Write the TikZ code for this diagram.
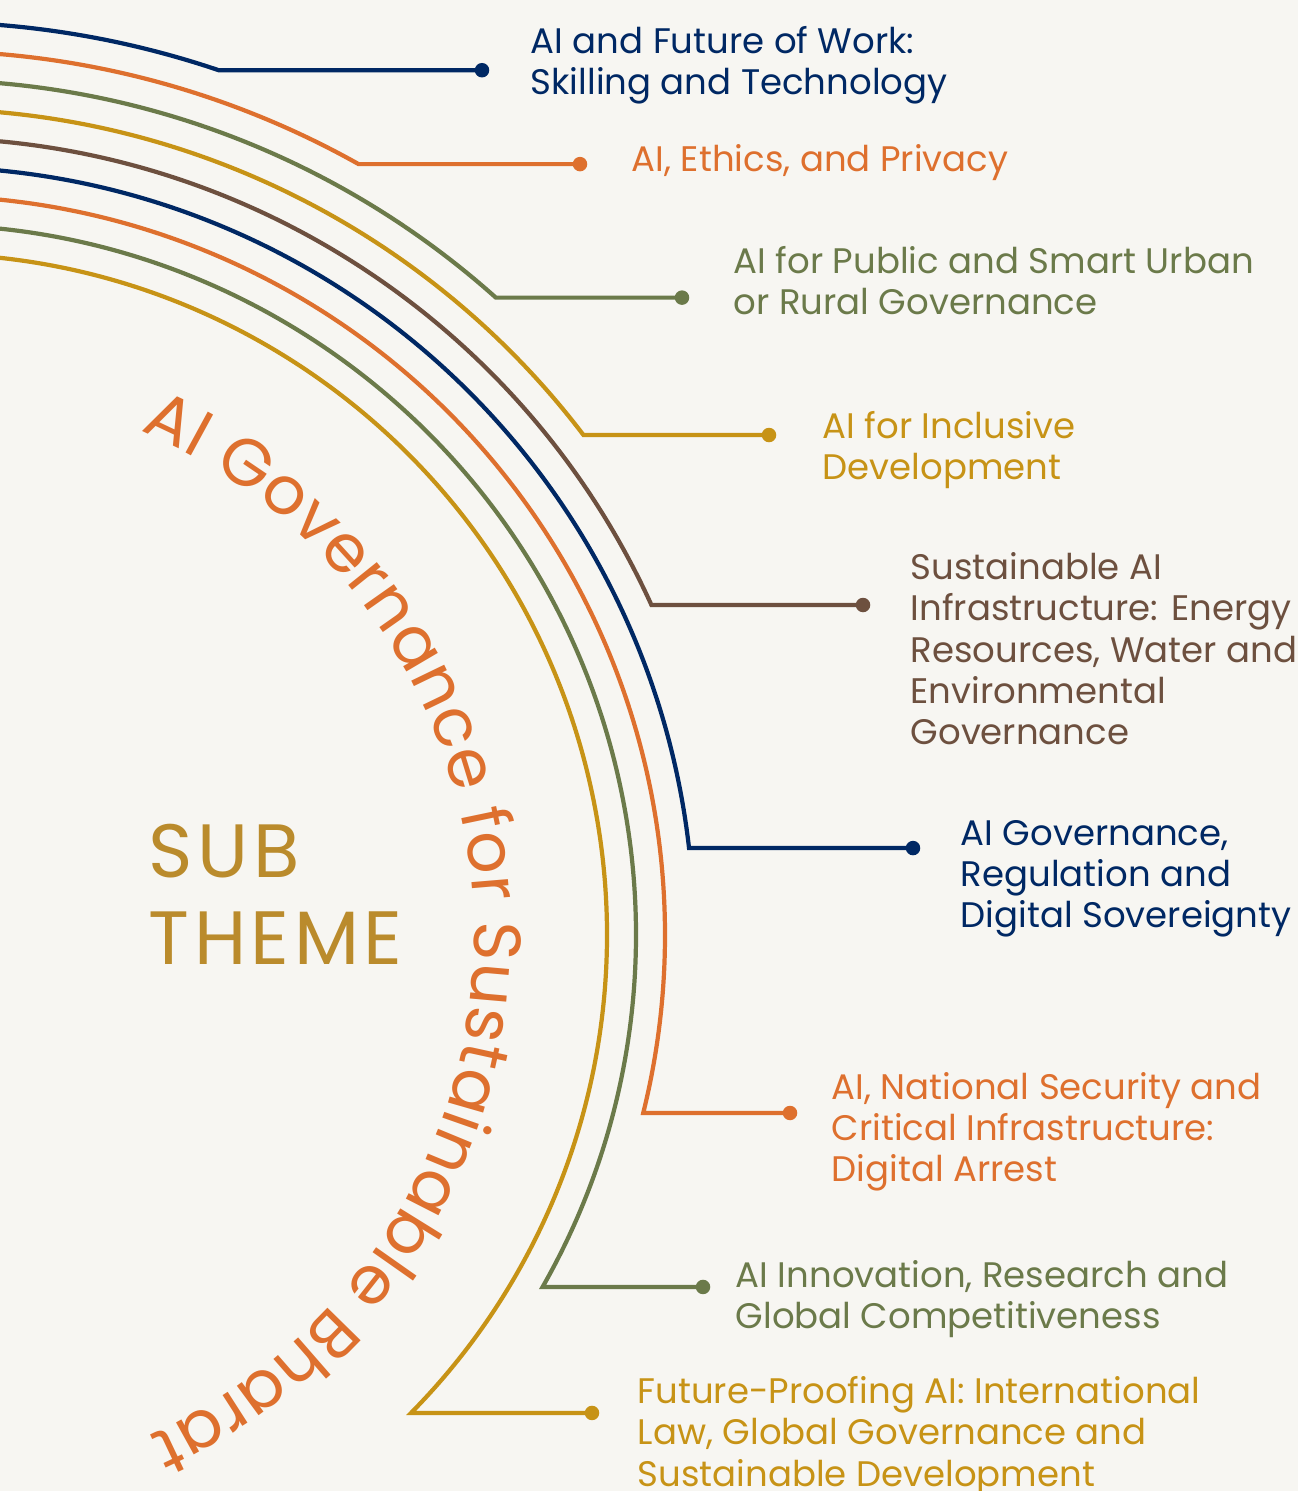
\documentclass[tikz,border=0pt]{standalone}
\usepackage{fontspec}
\setmainfont{Poppins}
\definecolor{mynavy}{RGB}{0,40,100}
\definecolor{myorange}{RGB}{222,112,46}
\definecolor{myolive}{RGB}{107,122,74}
\definecolor{mygold}{RGB}{199,147,22}
\definecolor{mybrown}{RGB}{109,80,63}
\definecolor{mytheme}{RGB}{186,139,44}
\definecolor{mypaper}{RGB}{247,246,242}
\usetikzlibrary{calc,decorations.text}

\begin{document}
\begin{tikzpicture}[x=0.1mm,y=0.1mm,
    ring/.style={line width=1.2pt},
    dot/.style={circle,fill,inner sep=0pt,minimum size=1.45mm},
    topic/.style={anchor=base west,align=left,inner sep=0pt,
      font=\fontsize{10.1}{11.8}\selectfont}
    ]
    
    % the page
    \useasboundingbox (0,0) rectangle (1298,1491);
    \fill[mypaper] (0,0) rectangle (1298,1491);
    \clip (0,0) rectangle (1298,1491);
    \coordinate (c) at (-74,556);
    
    % the rings
    \foreach \r/\a/\xd/\col [count=\i] in {913/71.3/482/mynavy,884/60.7/580/myorange,855/48.2/682/myolive,826/37.25/769/mygold,797/24.46/863/mybrown,768/6.5/913/mynavy,739/-13.94/790/myorange,710/-29.72/703/myolive,681/-44.58/592/mygold}
    {
      \coordinate (s\i) at ($(c)+(100:\r)$);
      \coordinate (k\i) at ($(c)+(\a:\r)$);
      \coordinate (x\i) at (\xd,0);
      \node[dot,fill=\col] (d\i) at (k\i -| x\i) {};
      \draw[ring,\col] (s\i) arc[start angle=100,end angle=\a,radius=\r] -- (d\i.center);
    }
    
    % the topics (base = last line)
    \node[topic,mynavy] (t1) at (530,1396) {AI and Future of Work:\\Skilling and Technology};
    \node[topic,myorange] (t2) at (631,1319) {AI, Ethics, and Privacy};
    \node[topic,myolive] (t3) at (733,1176) {AI for Public and Smart Urban\\or Rural Governance};
    \node[topic,mygold] (t4) at (822,1011) {AI for Inclusive\\Development};
    \node[topic,mybrown] (t5) at (910,746) {Sustainable AI\\Infrastructure: Energy\\Resources, Water and\\Environmental\\Governance};
    \node[topic,mynavy] (t6) at (960,563) {AI Governance,\\Regulation and\\Digital Sovereignty};
    \node[topic,myorange] (t7) at (831,309) {AI, National Security and\\Critical Infrastructure:\\Digital Arrest};
    \node[topic,myolive] (t8) at (735,162) {AI Innovation, Research and\\Global Competitiveness};
    \node[topic,mygold] (t9) at (637,5) {Future-Proofing AI: International\\Law, Global Governance and\\Sustainable Development};
    
    % the sub theme
    \node[anchor=base west,align=left,inner sep=0pt,mytheme,
      font=\fontsize{21.5}{25}\selectfont\addfontfeatures{LetterSpace=6}] (sub) at (148,526) {SUB\\THEME};
    
    % the title round the rings
    \path[decorate,decoration={text along path,text align=fit to path,
      text={|\fontsize{19}{19}\selectfont\color{myorange}|AI Governance for Sustainable Bharat}}]
      ($(c)+(67:548)$) arc[start angle=67,end angle=-66,radius=548];
\end{tikzpicture}
\end{document}
